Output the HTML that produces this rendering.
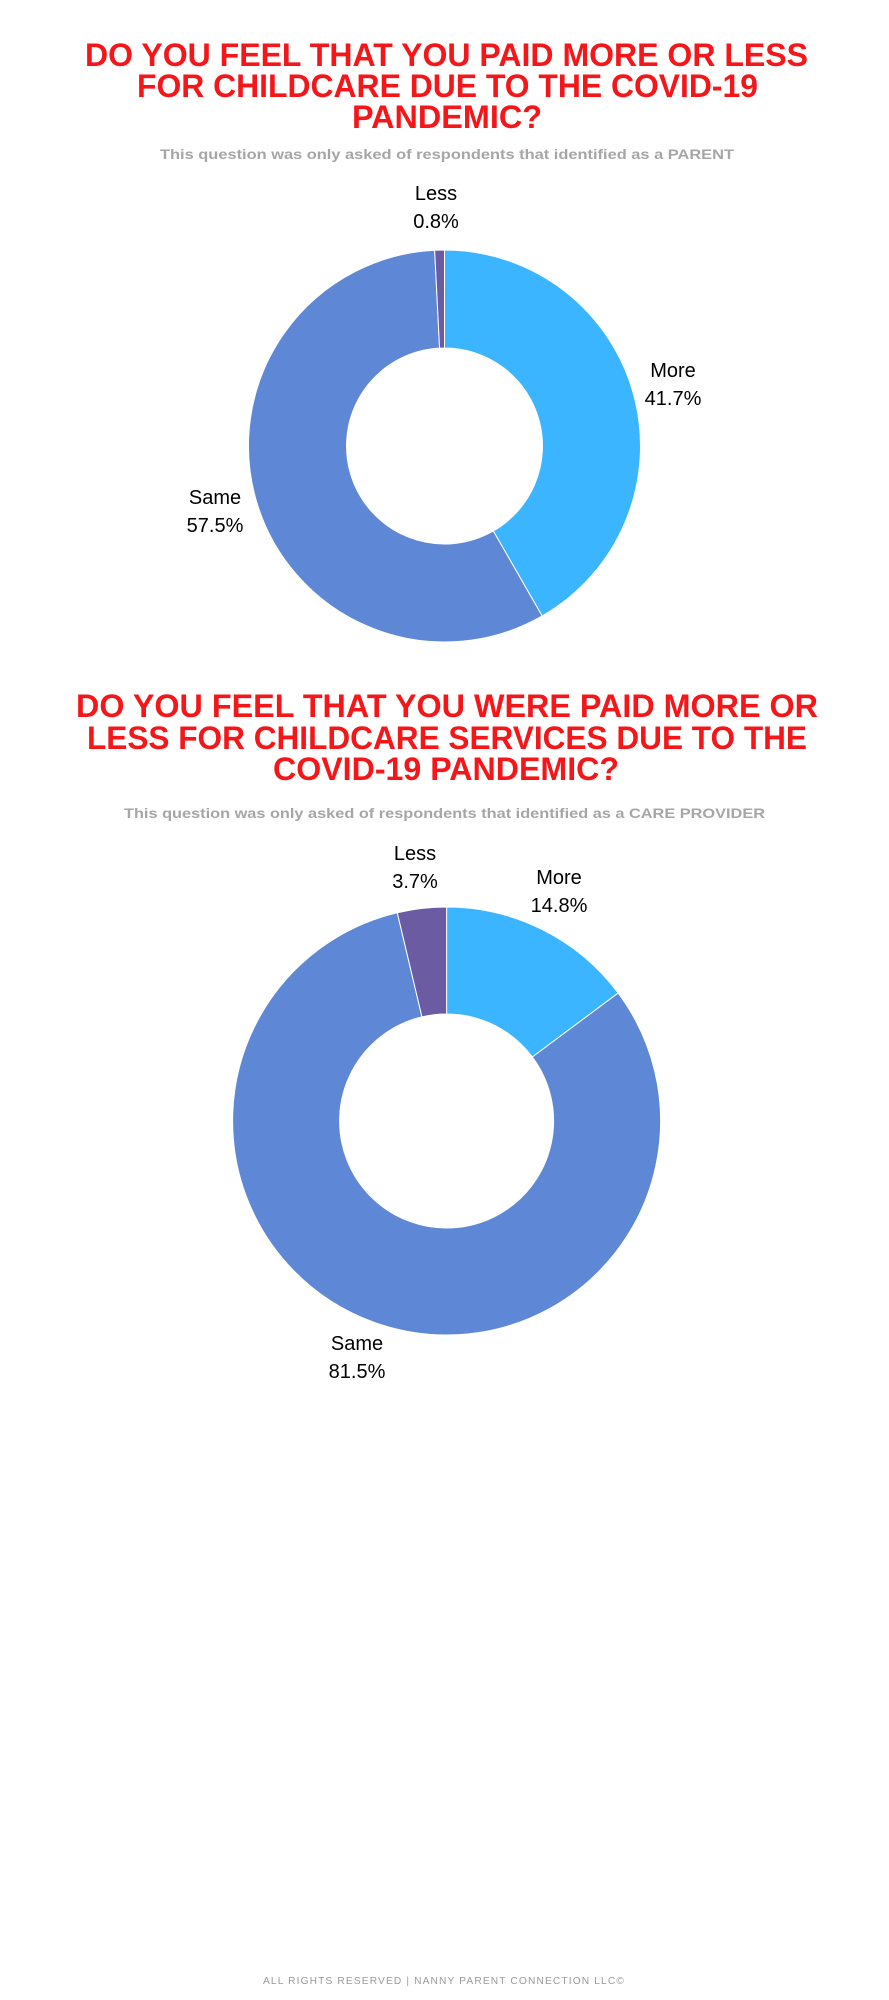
<!DOCTYPE html>
<html><head><meta charset="utf-8"><style>
html,body{margin:0;padding:0;background:#fff;}
svg{display:block;}
.t{font-family:"Liberation Sans",sans-serif;font-weight:bold;fill:#f5161a;}
.s{font-family:"Liberation Sans",sans-serif;font-weight:bold;fill:#a6a6a6;font-size:14px;}
.l{font-family:"Liberation Sans",sans-serif;fill:#000;font-size:20px;}
</style></head><body>
<svg id="page" width="889" height="2000" viewBox="0 0 889 2000" xmlns="http://www.w3.org/2000/svg">
<rect width="889" height="2000" fill="#fff"/>
<g>
<text class="t" x="85" y="66" font-size="32" textLength="723" lengthAdjust="spacingAndGlyphs">DO YOU FEEL THAT YOU PAID MORE OR LESS</text>
<text class="t" x="137" y="97" font-size="32" textLength="621" lengthAdjust="spacingAndGlyphs">FOR CHILDCARE DUE TO THE COVID-19</text>
<text class="t" x="352" y="128" font-size="32" textLength="190" lengthAdjust="spacingAndGlyphs">PANDEMIC?</text>
</g>
<text class="s" x="160" y="159" textLength="574" lengthAdjust="spacingAndGlyphs">This question was only asked of respondents that identified as a PARENT</text>
<g id="chart1"></g>
<g>
<text class="t" x="76" y="717" font-size="32" textLength="742" lengthAdjust="spacingAndGlyphs">DO YOU FEEL THAT YOU WERE PAID MORE OR</text>
<text class="t" x="87" y="749" font-size="32" textLength="720" lengthAdjust="spacingAndGlyphs">LESS FOR CHILDCARE SERVICES DUE TO THE</text>
<text class="t" x="273" y="780" font-size="32" textLength="346" lengthAdjust="spacingAndGlyphs">COVID-19 PANDEMIC?</text>
</g>
<text class="s" x="124" y="818" textLength="641" lengthAdjust="spacingAndGlyphs">This question was only asked of respondents that identified as a CARE PROVIDER</text>
<g id="chart2"></g>
<text x="444" y="1984" text-anchor="middle" font-family="Liberation Sans, sans-serif" font-size="10" letter-spacing="1.1" fill="#9a9a9a" textLength="362" lengthAdjust="spacingAndGlyphs">ALL RIGHTS RESERVED | NANNY PARENT CONNECTION LLC©</text>
</svg>
<script>
const categories = ["More", "Same", "Less"];
const parentValues = [41.7, 57.5, 0.8];
const providerValues = [14.8, 81.5, 3.7];
const colors = ["#3bb5ff", "#5e88d6", "#6a5ba3"];
const NS = "http://www.w3.org/2000/svg";

function drawDonut(gid, values, geo, labelPos) {
  const g = document.getElementById(gid);
  const total = values.reduce((a, b) => a + b, 0);
  const pt = (a, r) => [geo.cx + r * Math.sin(a), geo.cy - r * Math.cos(a)];
  let acc = 0;
  values.forEach((v, i) => {
    const a0 = acc / total * 2 * Math.PI;
    acc += v;
    const a1 = acc / total * 2 * Math.PI;
    const large = (a1 - a0) > Math.PI ? 1 : 0;
    const p0 = pt(a0, geo.r), p1 = pt(a1, geo.r);
    const q1 = pt(a1, geo.ir), q0 = pt(a0, geo.ir);
    const d = `M${p0[0]},${p0[1]} A${geo.r},${geo.r} 0 ${large} 1 ${p1[0]},${p1[1]} L${q1[0]},${q1[1]} A${geo.ir},${geo.ir} 0 ${large} 0 ${q0[0]},${q0[1]} Z`;
    const path = document.createElementNS(NS, "path");
    path.setAttribute("d", d);
    path.setAttribute("fill", colors[i]);
    path.setAttribute("stroke", "#fff");
    path.setAttribute("stroke-width", "1");
    
    
    g.appendChild(path);
    const lp = labelPos[i];
    [categories[i], v.toFixed(1) + "%"].forEach((txt, k) => {
      const t = document.createElementNS(NS, "text");
      t.setAttribute("class", "l");
      t.setAttribute("x", lp[0]);
      t.setAttribute("y", lp[1] + k * 28);
      t.setAttribute("text-anchor", "middle");
      t.textContent = txt;
      
      
      g.appendChild(t);
    });
  });
}
drawDonut("chart1", parentValues, {cx:444.5, cy:446, r:196, ir:98},
  [[673,377],[215,504],[436,200]]);
drawDonut("chart2", providerValues, {cx:446.6, cy:1121, r:214, ir:107},
  [[559,884],[357,1350],[415,860]]);
</script>
</body></html>
